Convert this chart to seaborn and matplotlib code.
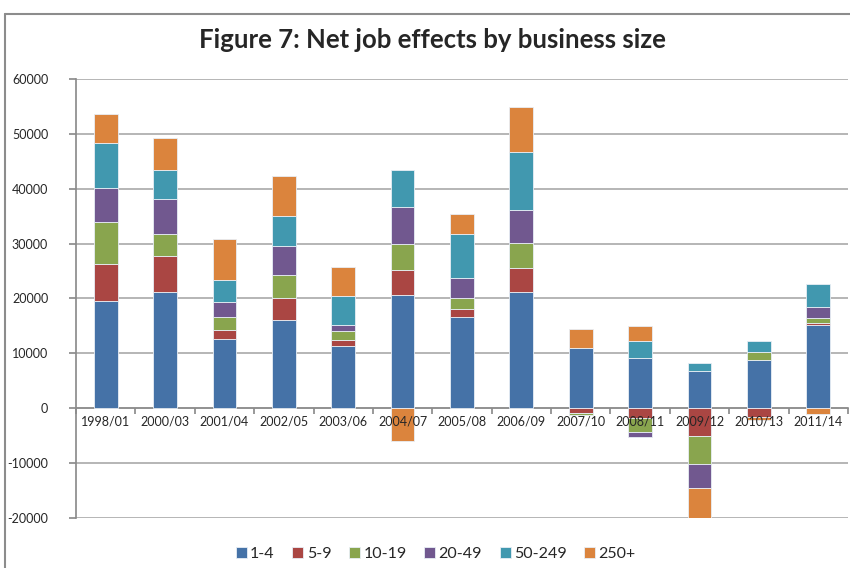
import numpy as np
import matplotlib
matplotlib.use('Agg')
import matplotlib.pyplot as plt
from matplotlib.lines import Line2D
from matplotlib.ticker import FixedLocator, NullFormatter
import seaborn as sns

# data
periods = ['1998/01', '2000/03', '2001/04', '2002/05', '2003/06', '2004/07', '2005/08',
           '2006/09', '2007/10', '2008/11', '2009/12', '2010/13', '2011/14']
size_1_4 = [19500, 21200, 12700, 16100, 11400, 20600, 16700, 21200, 11000, 9100, 6700, 8800, 15100]
size_5_9 = [6800, 6500, 1500, 4000, 1100, 4500, 1300, 4300, -800, -1800, -5000, -1600, 350]
size_10_19 = [7600, 4000, 2400, 4200, 1500, 4900, 2100, 4700, -500, -2600, -5200, 1500, 1050]
size_20_49 = [6300, 6400, 2700, 5300, 1200, 6600, 3600, 6000, 0, -800, -4300, 0, 2000]
size_50_249 = [8200, 5400, 4100, 5500, 5200, 6900, 8000, 10500, 0, 3200, 1600, 2000, 4200]
size_250 = [5300, 5700, 7500, 7200, 5300, -6000, 3700, 8200, 3400, 2600, -5700, -500, -1000]

labels = ['1-4', '5-9', '10-19', '20-49', '50-249', '250+']
series = [size_1_4, size_5_9, size_10_19, size_20_49, size_50_249, size_250]
colors = ['#4572A7', '#AA4643', '#89A54E', '#71588F', '#4198AF', '#DB843D']

sns.set_theme(style='white')
plt.rcParams['font.family'] = ['Lato', 'DejaVu Sans']
plt.rcParams['axes.unicode_minus'] = False

fig = plt.figure(figsize=(8.5, 5.68), dpi=100)
ax = fig.add_axes([0.0894, 0.088, 0.9082, 0.773])

x = np.arange(len(periods))
pos_base = np.zeros(len(periods))
neg_base = np.zeros(len(periods))
for lab, vals, col in zip(labels, series, colors):
    v = np.array(vals, dtype=float)
    bottom = np.where(v >= 0, pos_base, neg_base)
    ax.bar(x, v, bottom=bottom, width=0.4, color=col, edgecolor='#e8eef5',
           linewidth=0.6, label=lab, zorder=2)
    pos_base += np.where(v > 0, v, 0)
    neg_base += np.where(v < 0, v, 0)

ax.set_xlim(-0.5, len(periods) - 0.5)
ax.set_ylim(-20000, 60000)
ax.set_yticks(range(-20000, 60001, 10000))
ax.yaxis.grid(True, color='#b0b0b0', linewidth=1.3)
ax.set_axisbelow(True)
# category labels sit on top of the bars, as in the original
ax.xaxis.set_zorder(5)

for s in ['top', 'right']:
    ax.spines[s].set_visible(False)
ax.spines['left'].set_color('#8c8c8c')
ax.spines['bottom'].set_position(('data', 0))
ax.spines['bottom'].set_color('#8c8c8c')
ax.spines['bottom'].set_linewidth(1.2)
ax.spines['bottom'].set_zorder(1)

# ticks between categories, labels at centres
ax.xaxis.set_major_locator(FixedLocator(np.arange(-0.5, len(periods), 1)))
ax.xaxis.set_major_formatter(NullFormatter())
ax.set_xticks(x, minor=True)
ax.set_xticklabels(periods, minor=True, fontsize=9)
ax.tick_params(axis='x', which='major', direction='out', length=4, color='#8c8c8c', bottom=True)
ax.tick_params(axis='x', which='minor', length=0, pad=5)
ax.tick_params(axis='y', direction='out', length=5, color='#8c8c8c', left=True, labelsize=9, pad=15)

fig.suptitle('Figure 7: Net job effects by business size', x=0.509, y=0.95,
             fontsize=18.5, fontweight='bold')

ax.legend(loc='lower center', bbox_to_anchor=(0.466, -0.13), ncol=6, frameon=False,
          fontsize=11.5, handlelength=0.7, handleheight=0.7, handletextpad=0.2, columnspacing=1.1)

# outer chart border
fig.add_artist(Line2D([5 / 850, 1], [1 - 14 / 568, 1 - 14 / 568], color='#8c8c8c', lw=1.5))
fig.add_artist(Line2D([5 / 850, 5 / 850], [0, 1 - 14 / 568], color='#8c8c8c', lw=1.5))

fig.savefig('out.png', dpi=100)
